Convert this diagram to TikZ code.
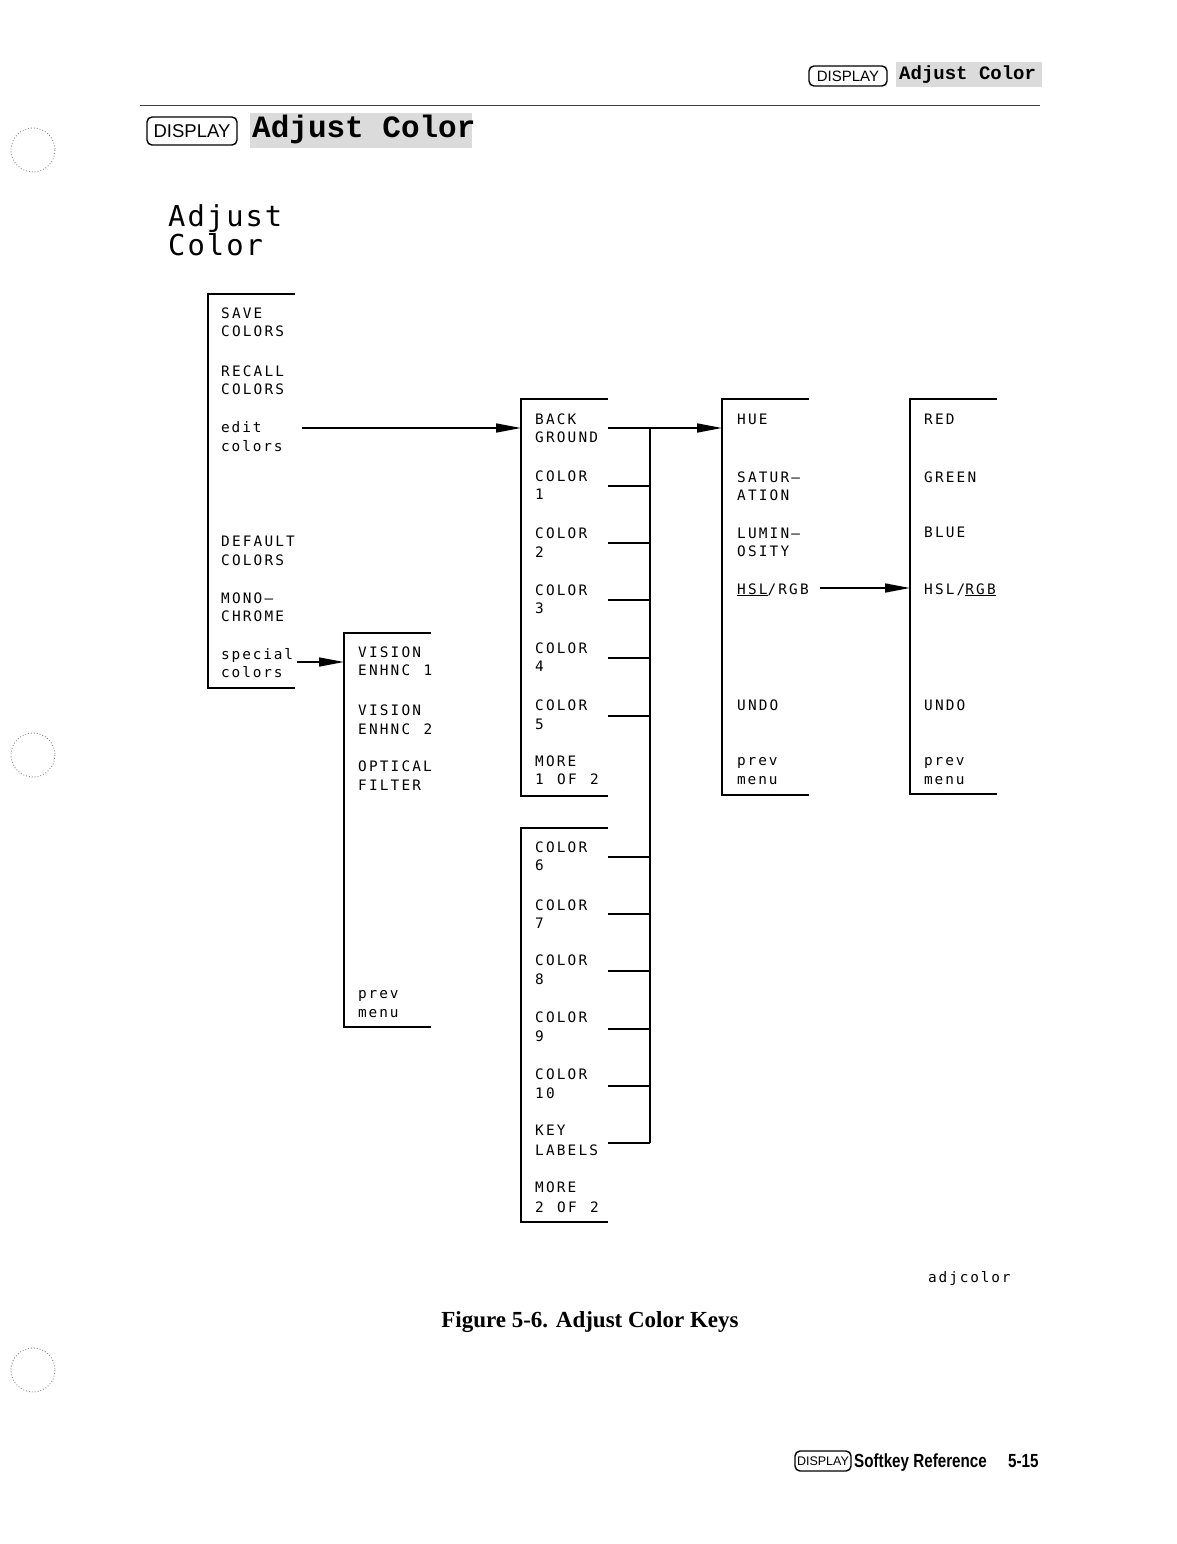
\documentclass[tikz,border=0pt]{standalone}
\usepackage{fontspec}
\usetikzlibrary{arrows.meta}
\newfontfamily\keyfont{DejaVu Sans Mono}[LetterSpace=15]
\newfontfamily\keylcfont{DejaVu Sans Mono}[LetterSpace=13]
\newfontfamily\bigkeyfont{DejaVu Sans Mono}[LetterSpace=7]
\newfontfamily\hdrfont{Liberation Mono}
\newfontfamily\capfont{Liberation Serif}
\newfontfamily\footfont{Liberation Sans}[FakeStretch=0.8]
\newfontfamily\dispfont{Liberation Sans}
\tikzset{
  menuline/.style={line width=1.6pt},
  keylbl/.style={anchor=base west, inner sep=0pt, font=\keyfont\fontsize{14.4}{18}\selectfont},
  arr/.style={line width=1.6pt, -{Triangle[length=25pt,width=9pt]}},
  keycap/.style={draw, rounded corners=5pt, line width=1.4pt, inner sep=0pt},
  hole/.style={draw=black!45, dotted, line width=0.9pt}
}
\newcommand\menubox[4]{%
  \coordinate (#1nw) at (#2,#3);
  \coordinate (#1sw) at (#2,#4);
  \draw[menuline] ([xshift=87pt]#1nw) -- (#1nw) -- (#1sw) -- ([xshift=87pt]#1sw);}
\newcommand\kl[4]{\node[keylbl] (#1) at (#2,#3) {#4};}
\newcommand\wsp{\kern2.5pt\ }
\begin{document}
\begin{tikzpicture}[x=1pt,y=-1pt]
\useasboundingbox (0,0) rectangle (1176,1544);
\fill[white] (0,0) rectangle (1176,1544);

% hole punches
\draw[hole] (33,150) circle (22);
\draw[hole] (33,755) circle (22);
\draw[hole] (33,1370) circle (22);

% running header
\fill[black!14] (896,62) rectangle (1042,87);
\node[keycap, minimum width=78pt, minimum height=20pt, font=\dispfont\fontsize{15}{15}\selectfont] (hdrkey) at (848,76) {DISPLAY};
\node[anchor=base west, inner sep=0pt, font=\hdrfont\bfseries\fontsize{19}{19}\selectfont] (hdrtitle) at (899,80) {Adjust Color};
\draw[line width=0.9pt, black!75] (140,105) -- (1040,105);

% section heading
\fill[black!14] (250,113) rectangle (472,148);
\node[keycap, minimum width=90pt, minimum height=28pt, font=\dispfont\fontsize{18.5}{18.5}\selectfont] (seckey) at (192,131) {DISPLAY};
\node[anchor=base west, inner sep=0pt, font=\hdrfont\bfseries\fontsize{31}{31}\selectfont] (sectitle) at (252,138) {Adjust Color};

% big label
\node[anchor=base west, inner sep=0pt, font=\bigkeyfont\fontsize{28.8}{29}\selectfont] (bigA) at (168,226) {Adjust};
\node[anchor=base west, inner sep=0pt, font=\bigkeyfont\fontsize{28.8}{29}\selectfont] (bigC) at (168,255) {Color};

% menu 1
\menubox{mA}{208}{294}{688}
\kl{a1}{221}{318}{SAVE}\kl{a1b}{221}{336}{COLORS}
\kl{a2}{221}{376}{RECALL}\kl{a2b}{221}{394}{COLORS}
\kl{a3}{221}{432}{\keylcfont edit}\kl{a3b}{221}{451}{\keylcfont colors}
\kl{a5}{221}{546}{DEFAULT}\kl{a5b}{221}{565}{COLORS}
\kl{a6}{221}{603}{MONO–}\kl{a6b}{221}{621}{CHROME}
\kl{a7}{221}{659}{\keylcfont special}\kl{a7b}{221}{677}{\keylcfont colors}

% menu 2
\menubox{mB}{344}{633}{1027}
\kl{b1}{358}{657}{VISION}\kl{b1b}{358}{675}{ENHNC\wsp 1}
\kl{b2}{358}{715}{VISION}\kl{b2b}{358}{734}{ENHNC\wsp 2}
\kl{b3}{358}{771}{OPTICAL}\kl{b3b}{358}{790}{FILTER}
\kl{b7}{358}{998}{\keylcfont prev}\kl{b7b}{358}{1017}{\keylcfont menu}

% menu 3
\menubox{mC}{521}{399}{796}
\kl{c1}{535}{424}{BACK}\kl{c1b}{535}{442}{GROUND}
\kl{c2}{535}{481}{COLOR}\kl{c2b}{535}{499}{1}
\kl{c3}{535}{538}{COLOR}\kl{c3b}{535}{557}{2}
\kl{c4}{535}{595}{COLOR}\kl{c4b}{535}{613}{3}
\kl{c5}{535}{653}{COLOR}\kl{c5b}{535}{671}{4}
\kl{c6}{535}{710}{COLOR}\kl{c6b}{535}{729}{5}
\kl{c7}{535}{766}{MORE}\kl{c7b}{535}{784}{1\wsp OF\wsp 2}

% menu 4
\menubox{mD}{521}{828}{1222}
\kl{d1}{535}{852}{COLOR}\kl{d1b}{535}{870}{6}
\kl{d2}{535}{910}{COLOR}\kl{d2b}{535}{928}{7}
\kl{d3}{535}{965}{COLOR}\kl{d3b}{535}{984}{8}
\kl{d4}{535}{1022}{COLOR}\kl{d4b}{535}{1041}{9}
\kl{d5}{535}{1079}{COLOR}\kl{d5b}{535}{1098}{10}
\kl{d6}{535}{1135}{KEY}\kl{d6b}{535}{1155}{LABELS}
\kl{d7}{535}{1192}{MORE}\kl{d7b}{535}{1212}{2\wsp OF\wsp 2}

% menu 5
\menubox{mE}{722}{399}{795}
\kl{e1}{737}{424}{HUE}
\kl{e2}{737}{482}{SATUR–}\kl{e2b}{737}{500}{ATION}
\kl{e3}{737}{538}{LUMIN–}\kl{e3b}{737}{556}{OSITY}
\kl{e4}{737}{594}{\underline{HSL}/RGB}
\kl{e6}{737}{710}{UNDO}
\kl{e7}{737}{765}{\keylcfont prev}\kl{e7b}{737}{784}{\keylcfont menu}

% menu 6
\menubox{mF}{910}{399}{794}
\kl{f1}{924}{424}{RED}
\kl{f2}{924}{482}{GREEN}
\kl{f3}{924}{537}{BLUE}
\kl{f4}{924}{594}{HSL/\underline{RGB}}
\kl{f6}{924}{710}{UNDO}
\kl{f7}{924}{765}{\keylcfont prev}\kl{f7b}{924}{784}{\keylcfont menu}

% bus and stubs
\coordinate (busTop) at (650,428);
\coordinate (busBot) at (650,1143);
\draw[menuline] (busTop) -- (busBot);
\foreach \i/\y in {1/486,2/543,3/600,4/658,5/716,6/857,7/914,8/971,9/1029,10/1086,11/1143}{
  \coordinate (st\i) at (608,\y);
  \draw[menuline] (st\i) -- (st\i -| busTop);
}

% arrows
\coordinate (editOut) at (302,428); \coordinate (mCin) at (521,428);
\draw[arr] (editOut) -- (mCin);
\coordinate (specOut) at (297,662); \coordinate (mBin) at (344,662);
\draw[arr] (specOut) -- (mBin);
\coordinate (bgOut) at (608,428); \coordinate (mEin) at (722,428);
\draw[arr] (bgOut) -- (mEin);
\coordinate (hslOut) at (820,588); \coordinate (mFin) at (910,588);
\draw[arr] (hslOut) -- (mFin);

% file tag and caption
\node[keylbl, font=\keylcfont\fontsize{14.4}{18}\selectfont] (tag) at (928,1282) {adjcolor};
\node[anchor=base, inner sep=0pt, font=\capfont\bfseries\fontsize{23}{23}\selectfont] (caption) at (590,1327) {Figure 5-6. Adjust Color Keys};

% footer
\node[keycap, minimum width=56pt, minimum height=20pt, font=\dispfont\fontsize{12.5}{12.5}\selectfont] (footkey) at (823,1461) {DISPLAY};
\node[anchor=base west, inner sep=0pt, font=\footfont\bfseries\fontsize{19}{19}\selectfont] (foottitle) at (854,1467) {Softkey Reference};
\node[anchor=base west, inner sep=0pt, font=\footfont\bfseries\fontsize{19}{19}\selectfont] (footpage) at (1008,1467) {5-15};
\end{tikzpicture}
\end{document}
